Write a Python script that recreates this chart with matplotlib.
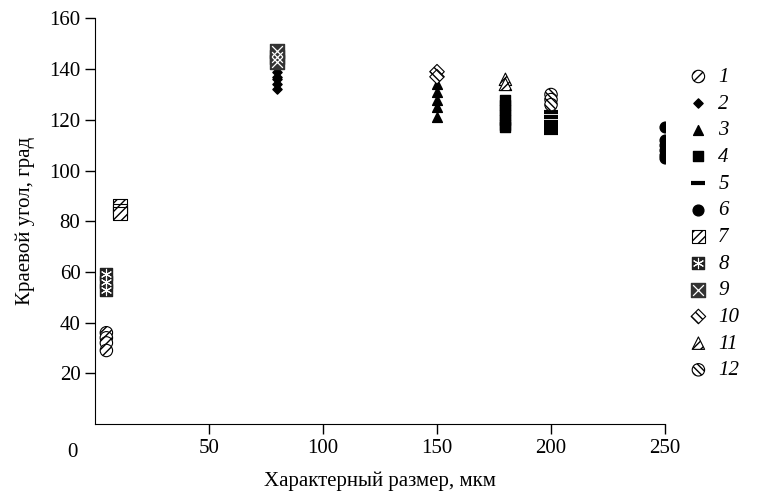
import matplotlib
matplotlib.use('Agg')
import matplotlib.pyplot as plt

# данные по сериям (характерный размер, мкм / краевой угол, град)
x1 = [5, 5, 5, 5]
y1 = [36, 34, 32, 29]
x2 = [80, 80, 80, 80, 80]
y2 = [139, 137, 136, 134, 132]
x3 = [150, 150, 150, 150, 150]
y3 = [134, 131, 128, 125, 121]
x4 = [180, 180, 180, 180, 180, 180, 180]
y4 = [128, 126, 124, 122, 120, 118, 117]
x5 = [200, 200, 200, 200, 200, 200, 200]
y5 = [123, 121, 119, 118, 117, 116, 115]
x6 = [250, 250, 250, 250, 250, 250]
y6 = [117, 112, 110, 108, 106, 105]
x7 = [11, 11, 11]
y7 = [86, 84, 83]
x8 = [5, 5, 5]
y8 = [59, 56, 53]
x9 = [80, 80, 80]
y9 = [147, 145, 143]
x10 = [150, 150]
y10 = [139, 137]
x11 = [180, 180]
y11 = [136, 134]
x12 = [200, 200, 200]
y12 = [130, 128, 126]

labels = ['1', '2', '3', '4', '5', '6', '7', '8', '9', '10', '11', '12']
xticks = [50, 100, 150, 200, 250]
yticks = [20, 40, 60, 80, 100, 120, 140, 160]

plt.rcParams['font.family'] = ['Liberation Serif', 'DejaVu Serif']
plt.rcParams['hatch.linewidth'] = 1.0


def main():
    fig = plt.figure(figsize=(7.69, 4.93), dpi=100)
    ax = fig.add_axes([0.1235, 0.140, 0.7413, 0.8225])

    hatched = dict(facecolors='white', edgecolors='black', linewidths=0.8)
    h1 = ax.scatter(x1, y1, marker='o', s=80, hatch='////', **hatched)
    h2 = ax.scatter(x2, y2, marker='D', s=22, color='black')
    h3 = ax.scatter(x3, y3, marker='^', s=50, color='black')
    h4 = ax.scatter(x4, y4, marker='s', s=60, color='black')
    h5 = ax.scatter(x5, y5, marker='_', s=110, color='black', linewidths=3)
    h6 = ax.scatter(x6, y6, marker='o', s=60, color='black')
    h7 = ax.scatter(x7, y7, marker='s', s=95, hatch='////', **hatched)

    # 8 и 9: тёмный квадрат с белым знаком поверх
    h8a = ax.scatter(x8, y8, marker='s', s=85, color='#222222')
    h8b = ax.scatter(x8, y8, marker=(6, 2, 0), s=55, color='white', linewidths=0.8)
    h9a = ax.scatter(x9, y9, marker='s', s=95, color='#333333')
    h9b = ax.scatter(x9, y9, marker='x', s=60, color='white', linewidths=0.9)

    h10 = ax.scatter(x10, y10, marker='D', s=55, hatch='\\\\\\\\', **hatched)
    h11 = ax.scatter(x11, y11, marker='^', s=80, hatch='////', **hatched)
    h12 = ax.scatter(x12, y12, marker='o', s=80, hatch='\\\\\\\\\\', **hatched)

    ax.set_xlim(0, 250)
    ax.set_ylim(0, 160)
    ax.set_xticks(xticks)
    ax.set_yticks(yticks)
    ax.tick_params(labelsize=15, length=7, width=1, direction='out')
    ax.spines['top'].set_visible(False)
    ax.spines['right'].set_visible(False)
    # ноль в углу осей
    ax.text(-0.04, -0.07, '0', transform=ax.transAxes, fontsize=15,
            ha='center', va='center')

    ax.set_xlabel('Характерный размер, мкм', fontsize=15, labelpad=10)
    ax.set_ylabel('Краевой угол, град', fontsize=15, labelpad=10)

    handles = [h1, h2, h3, h4, h5, h6, h7, (h8a, h8b), (h9a, h9b), h10, h11, h12]
    ax.legend(handles, labels, loc='upper left', bbox_to_anchor=(1.022, 0.90),
              frameon=False, prop={'style': 'italic', 'size': 15},
              handletextpad=0.35, labelspacing=0.34, handlelength=1.2,
              borderaxespad=0)

    fig.savefig('out.png', dpi=100)


if __name__ == "__main__":
    main()
